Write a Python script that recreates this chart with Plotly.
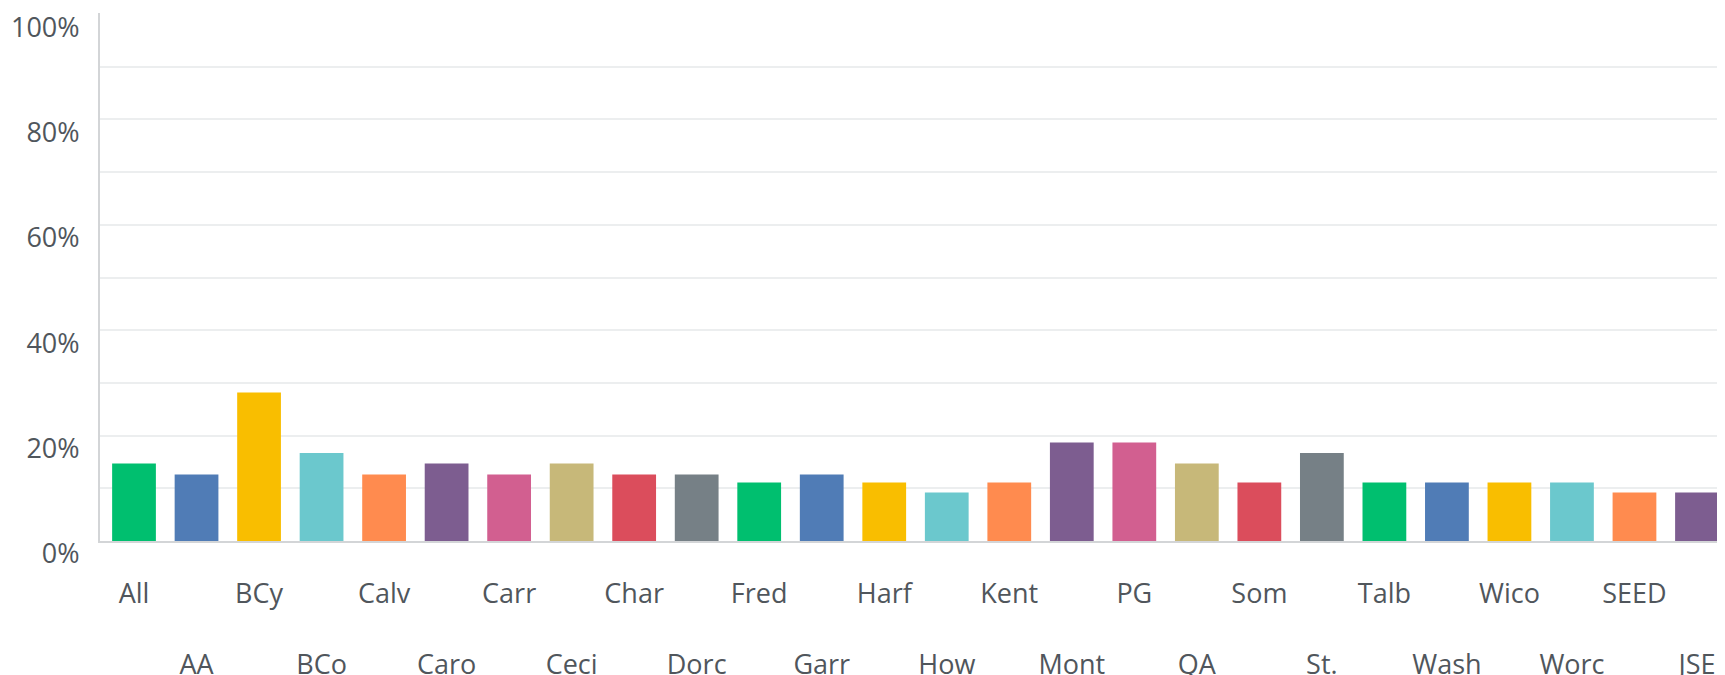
import plotly.graph_objects as go

categories = ["All", "AA", "BCy", "BCo", "Calv", "Caro", "Carr", "Ceci", "Char", "Dorc",
              "Fred", "Garr", "Harf", "How", "Kent", "Mont", "PG", "QA", "Som", "St.",
              "Talb", "Wash", "Wico", "Worc", "SEED", "JSE"]
values = [14.7, 12.6, 28.2, 16.7, 12.6, 14.7, 12.6, 14.7, 12.6, 12.6,
          11.1, 12.6, 11.1, 9.2, 11.1, 18.7, 18.7, 14.7, 11.1, 16.7,
          11.1, 11.1, 11.1, 11.1, 9.2, 9.2]
palette = ["#00BF6F", "#507CB6", "#F9BE00", "#6BC8CD", "#FF8B4F",
           "#7D5D90", "#D25F90", "#C7B879", "#DB4D5C", "#768086"]
y_ticks = [0, 0.2, 0.4, 0.6, 0.8, 1.0]
y_ticklabels = ["0%", "20%", "40%", "60%", "80%", "100%"]
y_minor = [0.1, 0.2, 0.3, 0.4, 0.5, 0.6, 0.7, 0.8, 0.9]

colors = [palette[i % len(palette)] for i in range(len(categories))]
ticktext = [c if i % 2 == 0 else "<br><br>" + c for i, c in enumerate(categories)]

fig = go.Figure(go.Bar(
    x=list(range(len(categories))),
    y=[v / 100 for v in values],
    marker=dict(color=colors, line=dict(width=0)),
))

fig.update_layout(
    width=1725, height=675,
    margin=dict(l=92, r=8, t=5, b=142, autoexpand=False),
    plot_bgcolor="white", paper_bgcolor="white",
    bargap=0.3,
    showlegend=False,
    font=dict(family="Open Sans, sans-serif", size=27, color="#50565c"),
)
fig.update_xaxes(
    range=[-0.544, 25.448],
    tickmode="array", tickvals=list(range(len(categories))), ticktext=ticktext,
    tickangle=0, automargin=False,
    showgrid=False, zeroline=False,
    showline=True, linecolor="#d3d5d7", linewidth=2,
    ticks="", ticklabelstandoff=28, ticklabeloverflow="allow",
)
fig.update_yaxes(
    range=[0, 1.002], automargin=False,
    tickmode="array", tickvals=y_ticks, ticktext=y_ticklabels,
    showgrid=False, zeroline=False,
    showline=True, linecolor="#d3d5d7", linewidth=2,
    ticks="", ticklabelstandoff=13, ticklabelshift=13, ticklabeloverflow="allow",
    minor=dict(tickmode="array", tickvals=y_minor, showgrid=True,
               gridcolor="#eceeef", gridwidth=2, ticks=""),
)

fig.write_html("out.html")
